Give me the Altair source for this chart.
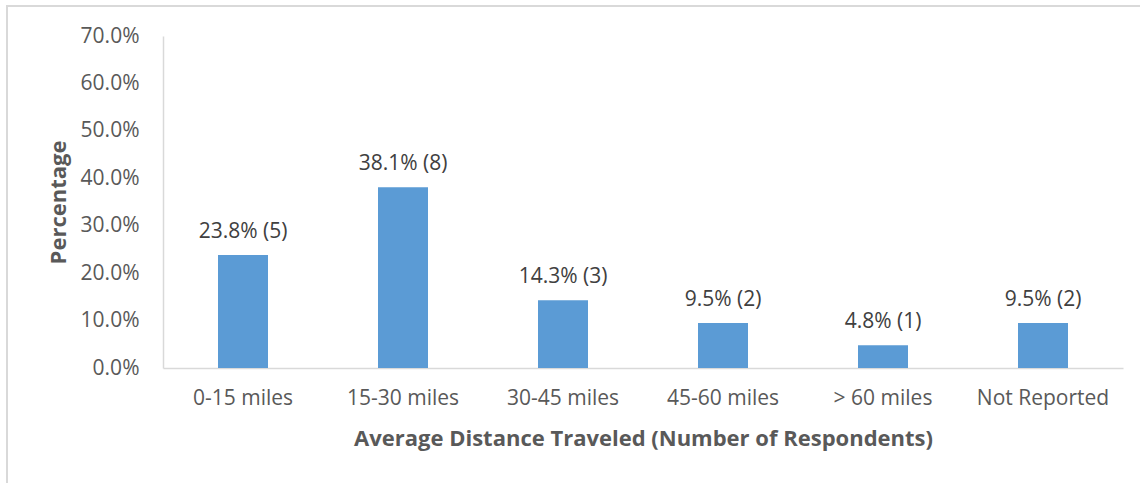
import altair as alt
import pandas as pd

categories = ["0-15 miles", "15-30 miles", "30-45 miles", "45-60 miles", "> 60 miles", "Not Reported"]
percentages = [23.8, 38.1, 14.3, 9.5, 4.8, 9.5]
counts = [5, 8, 3, 2, 1, 2]

df = pd.DataFrame({
    "cat": categories,
    "pct": [p / 100 for p in percentages],
    "label": [f"{p:.1f}% ({c})" for p, c in zip(percentages, counts)],
})

FONT = "Open Sans"
TXT = "#595959"

x_enc = alt.X("cat:N", sort=categories, scale=alt.Scale(paddingInner=0, paddingOuter=0),
              axis=alt.Axis(title="Average Distance Traveled (Number of Respondents)", labelAngle=0,
                            ticks=False, labelPadding=19, domainColor="#d9d9d9", domainWidth=1.5,
                            labelFont=FONT, labelFontSize=21, labelColor=TXT,
                            titleFont=FONT, titleFontSize=22, titleFontWeight="bold", titleColor=TXT,
                            titlePadding=20))
y_enc = alt.Y("pct:Q", scale=alt.Scale(domain=[0, 0.7], nice=False),
              axis=alt.Axis(title="Percentage", format=".1%", values=[0, 0.1, 0.2, 0.3, 0.4, 0.5, 0.6, 0.7],
                            grid=False, ticks=False, labelPadding=24, domainColor="#d9d9d9", domainWidth=1.5,
                            labelFont=FONT, labelFontSize=21, labelColor=TXT,
                            titleFont=FONT, titleFontSize=22, titleFontWeight="bold", titleColor=TXT,
                            titlePadding=10))

base = alt.Chart(df)
bars = base.mark_bar(color="#5B9BD5", size=50).encode(x=x_enc, y=y_enc)
labels = base.mark_text(baseline="alphabetic", dy=-17, font=FONT, fontSize=21, color="#404040").encode(
    x=alt.X("cat:N", sort=categories), y="pct:Q", text="label:N")

border = alt.Chart(df).mark_rect(fill=None, stroke="#d9d9d9", strokeWidth=2).encode(
    x=alt.value(-156), x2=alt.value(990), y=alt.value(-30), y2=alt.value(460))

chart = alt.layer(border, bars, labels).properties(
    width=960, height=332,
    background="white",
    autosize=alt.AutoSizeParams(type="none"),
    padding={"left": 163, "top": 36, "right": 17, "bottom": 115},
).configure_view(strokeWidth=0, stroke=None)

chart.save("out.html", embed_options={"renderer": "svg", "actions": False})
